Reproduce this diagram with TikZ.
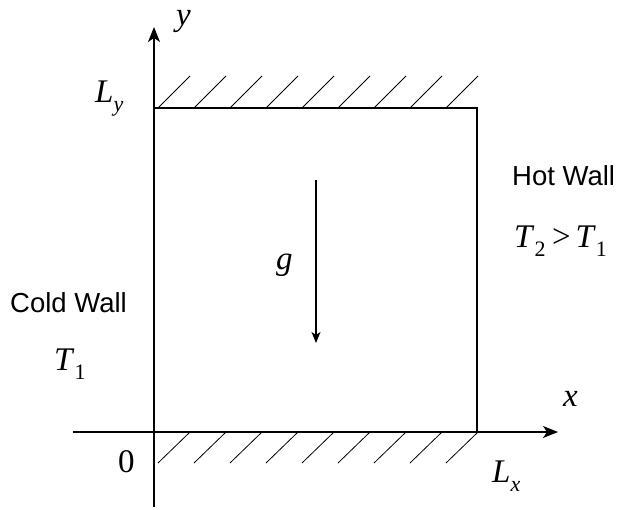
\documentclass[tikz,border=0pt]{standalone}
\usepackage{fontspec}
\setmainfont{Liberation Serif}
\newfontfamily\arialfont{Liberation Sans}
\usetikzlibrary{arrows.meta}
\newcommand\mysub[1]{\raisebox{-0.28em}{\fontsize{22}{22}\selectfont #1}}
\tikzset{
  mathlbl/.style={inner sep=0pt, anchor=base west, font=\fontsize{33}{33}\selectfont},
  sanslbl/.style={inner sep=0pt, anchor=base west, font=\arialfont\fontsize{27.5}{27.5}\selectfont},
  axisline/.style={line width=1.3pt, -{Stealth[length=15pt,width=12pt,inset=4pt]}},
  wall/.style={line width=1.3pt},
  hatch/.style={line width=0.8pt},
  garrow/.style={line width=1.1pt, -{Stealth[length=11pt,width=9pt,inset=3pt]}}
}
\begin{document}
\begin{tikzpicture}[x=1pt,y=-1pt]
\useasboundingbox (0,0) rectangle (617,509);
% axes
\coordinate (xs) at (73,432);
\coordinate (xe) at (558,432);
\coordinate (ys) at (154,507);
\coordinate (ye) at (154,27);
\draw[axisline] (xs) -- (xe);
\draw[axisline] (ys) -- (ye);
% box
\coordinate (bl) at (154,432);
\coordinate (tl) at (154,108);
\coordinate (tr) at (477,108);
\coordinate (br) at (477,432);
\draw[wall] (tl) -- (tr) -- (br);
% hatching
\foreach \k in {0,...,8} {
  \draw[hatch] ({158+36*\k},108) -- ++(32,-32);
  \draw[hatch] ({190+36*\k},432) -- ++(-32,31);
}
% gravity
\coordinate (gs) at (316,180);
\coordinate (ge) at (316,343);
\draw[garrow] (gs) -- (ge);
% labels
\node[mathlbl] (ylbl) at (176,25) {\textit{y}};
\node[mathlbl] (Ly) at (95,102) {\textit{L}\mysub{\textit{y}}};
\node[mathlbl] (xlbl) at (563,406) {\textit{x}};
\node[mathlbl] (zero) at (118,472) {0};
\node[mathlbl] (Lx) at (492,482) {\textit{L}\mysub{\textit{x}}};
\node[mathlbl] (glbl) at (276,269) {\textit{g}};
\node[sanslbl] (hot) at (512,185) {Hot Wall};
\node[mathlbl] (T2) at (514,247) {\textit{T}\mysub{2}\hspace{0.2em}{>}\hspace{0.15em}\textit{T}\mysub{1}};
\node[sanslbl] (cold) at (10,312) {Cold Wall};
\node[mathlbl] (T1) at (54,370) {\textit{T}\mysub{1}};
\end{tikzpicture}
\end{document}
